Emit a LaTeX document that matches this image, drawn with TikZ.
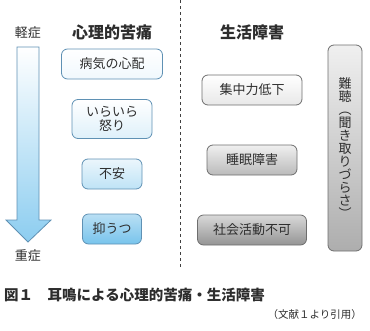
\documentclass[tikz,border=0pt]{standalone}
\usepackage{fontspec}
\setmainfont{Noto Sans CJK JP}
\usetikzlibrary{positioning}

\definecolor{ink}{RGB}{45,45,45}
\definecolor{edgeblue}{RGB}{95,145,180}
\definecolor{arrowblue}{RGB}{140,205,240}
\definecolor{edgegray}{RGB}{110,110,110}

\begin{document}
\begin{tikzpicture}[x=1pt, y=-1pt, font=\fontsize{13}{14}\selectfont, text=ink,
    mind/.style={draw=edgeblue, line width=0.8pt, rounded corners=6pt, inner sep=0pt, minimum height=30pt},
    life/.style={draw=edgegray, line width=0.8pt, rounded corners=6pt, inner sep=0pt, minimum height=30pt},
    head/.style={font=\fontsize{16}{18}\selectfont\bfseries}]
  \useasboundingbox (0,0) rectangle (370,330);
  % ------------------------------------------------------------------ left: severity arrow
  \path[draw=edgeblue, line width=0.8pt, top color=white, bottom color=arrowblue]
    (17,47) -- (39,47) -- (39,220) -- (51,220) -- (28,242) -- (6,220) -- (17,220) -- cycle;
  \node (mild) at (28,33) {軽症};
  \node (severe) at (28,256) {重症};
  % ------------------------------------------------------------------ left: psychological distress
  \node[head] (mindhead) at (112,32) {心理的苦痛};
  \node[mind, minimum width=101pt, top color=white, bottom color={rgb,255:red,240;green,248;blue,253}] (worry) at (112,64) {病気の心配};
  \node[mind, minimum width=80pt, minimum height=39pt, align=center, top color=white, bottom color={rgb,255:red,222;green,240;blue,250}]
    (irritation) at (112,119) {いらいら\\怒り};
  \node[mind, minimum width=60pt, top color={rgb,255:red,235;green,246;blue,252}, bottom color={rgb,255:red,190;green,227;blue,246}]
    (anxiety) at (112,174) {不安};
  \node[mind, minimum width=59pt, top color={rgb,255:red,185;green,223;blue,244}, bottom color={rgb,255:red,120;green,196;blue,236}]
    (depression) at (112,229) {抑うつ};
  % ------------------------------------------------------------------ divider
  \coordinate (divtop) at (180,0);
  \coordinate (divbot) at (180,268);
  \draw[black!75, line width=0.8pt, dash pattern=on 3pt off 3pt] (divtop) -- (divbot);
  % ------------------------------------------------------------------ right: life disorders
  \node[head] (lifehead) at (252,32) {生活障害};
  \node[life, minimum width=100pt, top color=white, bottom color=black!9] (focus) at (252,90) {集中力低下};
  \node[life, minimum width=90pt, top color=black!6, bottom color=black!27] (sleep) at (252,160) {睡眠障害};
  \node[life, minimum width=109pt, top color=black!15, bottom color=black!42] (social) at (252,230) {社会活動不可};
  \node[life, minimum width=34pt, minimum height=206pt, align=center, top color=black!6, bottom color=black!32,
        font=\fontsize{13}{13}\selectfont]
    (hearing) at (345,148) {難\\聴\\︵\\聞\\き\\取\\り\\づ\\ら\\さ\\︶};
  % ------------------------------------------------------------------ caption
  \node[anchor=west, inner sep=0pt, font=\fontsize{14.5}{16}\selectfont\bfseries] (caption) at (4,295)
    {図１　耳鳴による心理的苦痛・生活障害};
  \node[anchor=east, inner sep=0pt, font=\fontsize{10.5}{12}\selectfont] (source) at (362,315)
    {（文献１より引用）};
\end{tikzpicture}
\end{document}
